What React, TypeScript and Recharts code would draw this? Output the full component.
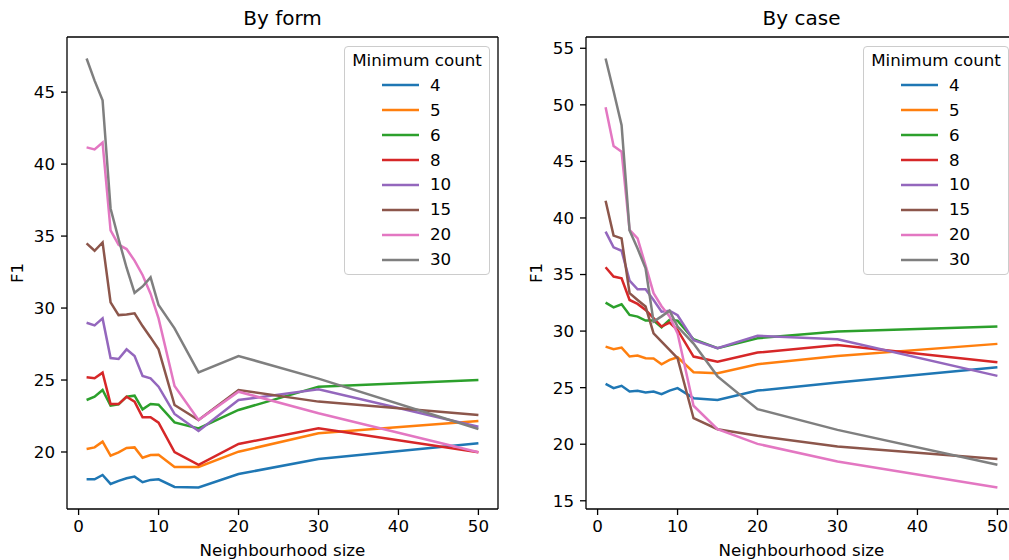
import { LineChart, Line, XAxis, YAxis, Legend, Label, ReferenceLine } from 'recharts'

// x axis: neighbourhood size, one row per size
const neighbourhoodSizes = [1, 2, 3, 4, 5, 6, 7, 8, 9, 10, 12, 15, 20, 30, 50]
const minimumCounts = ['4', '5', '6', '8', '10', '15', '20', '30']
const colors = ['#1f77b4', '#ff7f0e', '#2ca02c', '#d62728', '#9467bd', '#8c564b', '#e377c2', '#7f7f7f']

// By form
const form4 = [18.1, 18.1, 18.4, 17.78, 17.99, 18.17, 18.29, 17.9, 18.06, 18.1, 17.57, 17.53, 18.47, 19.51, 20.6]
const form5 = [20.21, 20.32, 20.72, 19.74, 19.98, 20.28, 20.32, 19.6, 19.79, 19.81, 18.96, 18.96, 20.02, 21.3, 22.15]
const form6 = [23.61, 23.84, 24.31, 23.22, 23.31, 23.84, 23.91, 22.96, 23.33, 23.29, 22.06, 21.64, 22.92, 24.54, 25.0]
const form8 = [25.19, 25.12, 25.51, 23.33, 23.33, 23.84, 23.5, 22.41, 22.41, 22.04, 20.0, 19.1, 20.56, 21.64, 19.98]
const form10 = [28.98, 28.8, 29.28, 26.53, 26.46, 27.13, 26.67, 25.28, 25.12, 24.54, 22.64, 21.46, 23.61, 24.35, 21.76]
const form15 = [34.49, 33.98, 34.56, 30.39, 29.51, 29.55, 29.63, 28.75, 27.96, 27.13, 23.26, 22.22, 24.31, 23.5, 22.57]
const form20 = [41.16, 41.02, 41.5, 35.4, 34.4, 34.1, 33.3, 32.3, 31.0, 29.28, 24.58, 22.22, 24.19, 22.69, 19.98]
const form30 = [47.34, 45.8, 44.44, 36.92, 34.8, 32.8, 31.06, 31.5, 32.13, 30.21, 28.59, 25.53, 26.67, 25.1, 21.6]

// By case
const case4 = [25.34, 24.96, 25.16, 24.66, 24.72, 24.57, 24.66, 24.42, 24.74, 24.96, 24.07, 23.92, 24.74, 25.45, 26.8]
const case5 = [28.63, 28.4, 28.54, 27.75, 27.84, 27.6, 27.57, 27.07, 27.45, 27.69, 26.37, 26.28, 27.07, 27.8, 28.87]
const case6 = [32.52, 32.1, 32.37, 31.43, 31.28, 30.93, 30.93, 30.34, 31.0, 30.93, 29.28, 28.48, 29.37, 29.96, 30.4]
const case8 = [35.64, 34.82, 34.67, 32.75, 32.4, 31.87, 31.14, 30.4, 30.75, 30.1, 27.75, 27.3, 28.1, 28.78, 27.25]
const case10 = [38.79, 37.4, 37.1, 34.46, 33.7, 33.7, 32.75, 31.72, 31.8, 31.4, 29.2, 28.48, 29.58, 29.28, 26.04]
const case15 = [41.53, 38.44, 38.2, 33.35, 32.75, 32.17, 29.8, 29.07, 28.33, 27.6, 22.3, 21.33, 20.74, 19.8, 18.7]
const case20 = [49.78, 46.36, 45.86, 38.94, 38.2, 35.8, 33.35, 32.2, 31.3, 29.8, 23.4, 21.33, 20.03, 18.47, 16.17]
const case30 = [54.1, 51.2, 48.2, 38.9, 37.3, 35.55, 30.84, 31.3, 31.8, 30.4, 28.9, 26.0, 23.1, 21.27, 18.18]

const xTicks = [0, 10, 20, 30, 40, 50]
const formTicks = [20, 25, 30, 35, 40, 45]
const caseTicks = [15, 20, 25, 30, 35, 40, 45, 50, 55]

const FONT = 'DejaVu Sans'
const FS = 16.7
const xDomain: [number, number] = [-1.45, 52.45]
const tickStyle = { fill: '#000', fontSize: FS, fontFamily: FONT }

// matplotlib-ish 5% margins
function padDomain(series: number[][]): [number, number] {
  const all = series.flat()
  const lo = Math.min(...all)
  const hi = Math.max(...all)
  const m = (hi - lo) * 0.05
  return [lo - m, hi + m]
}

function LegendBox() {
  return (
    <div style={{
      boxSizing: 'border-box',
      width: 146,
      height: 229,
      border: '1px solid #cccccc',
      borderRadius: 4,
      background: 'rgba(255,255,255,0.8)',
      fontFamily: FONT,
      fontSize: FS,
      color: '#000',
      paddingTop: 1,
    }}>
      <div style={{ height: 24.9, lineHeight: '24.9px', textAlign: 'center', whiteSpace: 'nowrap' }}>
        Minimum count
      </div>
      {minimumCounts.map((c, k) => (
        <div key={c} style={{ position: 'relative', height: 24.9, lineHeight: '24.9px' }}>
          <svg width={40} height={6} style={{ position: 'absolute', left: 36, top: 9.5 }}>
            <line x1={1} y1={3} x2={38} y2={3} stroke={colors[k]} strokeWidth={2.5} />
          </svg>
          <span style={{ position: 'absolute', left: 85 }}>{c}</span>
        </div>
      ))}
    </div>
  )
}

function Panel({ title, series, yTicks }: { title: string; series: number[][]; yTicks: number[] }) {
  const rows = neighbourhoodSizes.map((x, i) => {
    const row: Record<string, number> = { x }
    series.forEach((s, k) => { row['c' + minimumCounts[k]] = s[i] })
    return row
  })
  const yDomain = padDomain(series)

  return (
    <LineChart width={510} height={560} data={rows} margin={{ top: 37, right: 12, bottom: 0, left: 0 }}>
      <XAxis
        dataKey="x"
        type="number"
        domain={xDomain}
        ticks={xTicks}
        interval={0}
        height={51}
        tickSize={6}
        tickMargin={5}
        stroke="#000"
        strokeWidth={1.3}
        tick={tickStyle}
      >
        <Label
          content={(p: any) => {
            const vb = p.viewBox
            const cx = vb.x + vb.width / 2
            return (
              <g>
                <text x={cx} y={556} textAnchor="middle" fill="#000" fontSize={FS} fontFamily={FONT}>
                  Neighbourhood size
                </text>
                <text x={cx} y={25} textAnchor="middle" fill="#000" fontSize={20} fontFamily={FONT}>
                  {title}
                </text>
              </g>
            )
          }}
        />
      </XAxis>
      <YAxis
        type="number"
        domain={yDomain}
        ticks={yTicks}
        interval={0}
        width={67}
        tickSize={6}
        tickMargin={6}
        stroke="#000"
        strokeWidth={1.3}
        tick={tickStyle}
      >
        <Label
          content={(p: any) => {
            const vb = p.viewBox
            const cy = vb.y + vb.height / 2
            return (
              <text
                x={16.5}
                y={cy}
                transform={`rotate(-90, 16.5, ${cy})`}
                textAnchor="middle"
                dominantBaseline="central"
                fill="#000"
                fontSize={FS}
                fontFamily={FONT}
              >
                F1
              </text>
            )
          }}
        />
      </YAxis>
      {/* top and right spines */}
      <ReferenceLine y={yDomain[1]} stroke="#000" strokeWidth={1.3} ifOverflow="visible" />
      <ReferenceLine x={xDomain[1]} stroke="#000" strokeWidth={1.3} ifOverflow="visible" />
      <Legend
        layout="vertical"
        align="center"
        verticalAlign="middle"
        wrapperStyle={{ left: 344, top: 46, width: 146, height: 229 }}
        content={() => <LegendBox />}
      />
      {minimumCounts.map((c, k) => (
        <Line
          key={c}
          type="linear"
          dataKey={'c' + c}
          name={c}
          stroke={colors[k]}
          strokeWidth={2.5}
          dot={false}
          activeDot={false}
          isAnimationActive={false}
        />
      ))}
    </LineChart>
  )
}

export default function App() {
  return (
    <div style={{ position: 'absolute', left: 0, top: 0, width: 1009, height: 560, overflow: 'hidden', background: '#fff' }}>
      <div style={{ position: 'absolute', left: 0, top: 0 }}>
        <Panel title="By form" series={[form4, form5, form6, form8, form10, form15, form20, form30]} yTicks={formTicks} />
      </div>
      <div style={{ position: 'absolute', left: 519, top: 0 }}>
        <Panel title="By case" series={[case4, case5, case6, case8, case10, case15, case20, case30]} yTicks={caseTicks} />
      </div>
    </div>
  )
}
